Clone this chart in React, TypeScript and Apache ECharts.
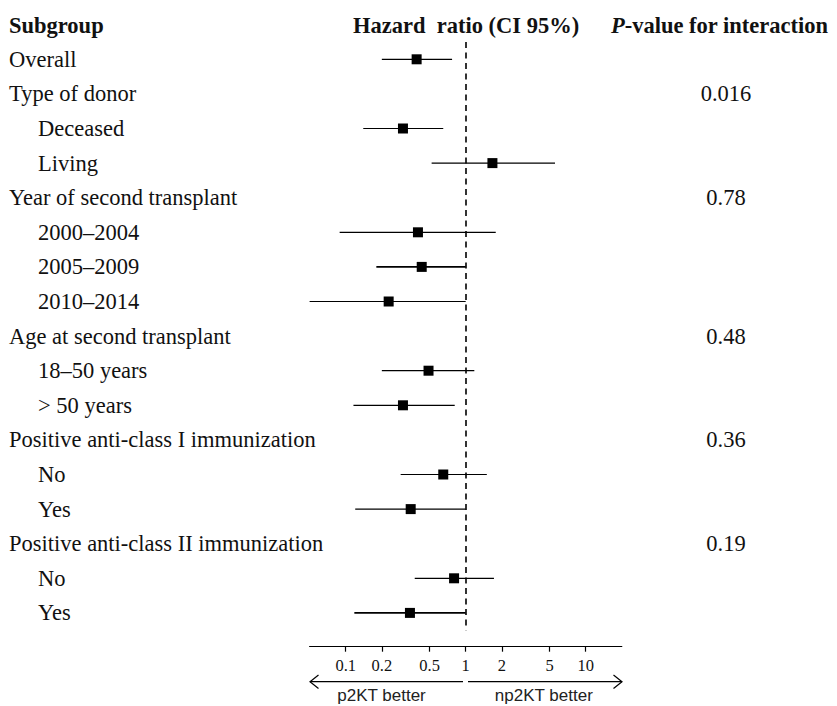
import { useEffect, useRef } from 'react';
import * as echarts from 'echarts';

// ---- data ----
const rowLabels = [
  'Overall',
  'Type of donor',
  'Deceased',
  'Living',
  'Year of second transplant',
  '2000–2004',
  '2005–2009',
  '2010–2014',
  'Age at second transplant',
  '18–50 years',
  '> 50 years',
  'Positive anti-class I immunization',
  'No',
  'Yes',
  'Positive anti-class II immunization',
  'No',
  'Yes',
];
// indices of top-level (non-indented) rows
const topLevelRows = [0, 1, 4, 8, 11, 14];

const hazardRatio = [0.39, null, 0.30, 1.67, null, 0.40, 0.43, 0.228, null, 0.49, 0.30, null, 0.65, 0.348, null, 0.80, 0.343];
const ciLower = [0.20, null, 0.14, 0.52, null, 0.089, 0.18, 0.050, null, 0.20, 0.116, null, 0.287, 0.12, null, 0.376, 0.118];
const ciUpper = [0.77, null, 0.65, 5.55, null, 1.78, 1.00, 1.00, null, 1.18, 0.81, null, 1.50, 1.00, null, 1.72, 1.00];
const pInteraction = ['', '0.016', '', '', '0.78', '', '', '', '0.48', '', '', '0.36', '', '', '0.19', '', ''];
const xTickValues = [0.1, 0.2, 0.5, 1, 2, 5, 10];
const xMin = 0.05;
const xMax = 20;

const SERIF = '"Liberation Serif", "Times New Roman", serif';
const SANS = '"Liberation Sans", Arial, sans-serif';
const INK = '#111';

export default function App() {
  const ref = useRef<HTMLDivElement>(null);

  useEffect(() => {
    if (!ref.current) return;
    const chart = echarts.init(ref.current, null, { renderer: 'svg' });

    const gridLeft = 309.6;
    const gridWidth = 312.2;
    const gridTop = 42;
    const gridHeight = 588.2;
    const thickRows = new Set([6, 16]);
    const FS = 22.5;

    const ciData = rowLabels
      .map((_, i) => (hazardRatio[i] == null ? null : [i, ciLower[i], hazardRatio[i], ciUpper[i]]))
      .filter((d) => d !== null);

    const option: any = {
      animation: false,
      backgroundColor: '#fff',
      grid: {
        left: gridLeft,
        top: gridTop,
        width: gridWidth,
        height: gridHeight,
        containLabel: false,
        outerBoundsMode: 'none',
      },
      xAxis: {
        type: 'log',
        logBase: 10,
        min: xMin,
        max: xMax,
        position: 'bottom',
        offset: 16.5,
        axisLine: { show: true, lineStyle: { color: '#000', width: 1.2 } },
        axisTick: { show: true, customValues: xTickValues, length: 5, lineStyle: { color: '#000', width: 1.2 } },
        axisLabel: {
          customValues: xTickValues,
          formatter: (v: number) => String(Number(Number(v).toPrecision(3))),
          fontFamily: SERIF,
          fontSize: 16.5,
          color: INK,
          margin: 10,
        },
        splitLine: { show: false },
        minorTick: { show: false },
      },
      yAxis: [
        {
          type: 'category',
          data: rowLabels,
          inverse: true,
          position: 'left',
          axisLine: { show: false },
          axisTick: { show: false },
          splitLine: { show: false },
          axisLabel: {
            interval: 0,
            align: 'left',
            margin: gridLeft - 9,
            formatter: (val: string, idx: number) =>
              topLevelRows.indexOf(idx) >= 0 ? `{h|${val}}` : `{i|${val}}`,
            rich: {
              h: { fontFamily: SERIF, fontSize: FS, color: INK },
              i: { fontFamily: SERIF, fontSize: FS, color: INK, padding: [0, 0, 0, 29] },
            },
          },
        },
        {
          type: 'category',
          data: pInteraction,
          inverse: true,
          position: 'right',
          axisLine: { show: false },
          axisTick: { show: false },
          splitLine: { show: false },
          axisLabel: {
            interval: 0,
            align: 'center',
            margin: 726 - (gridLeft + gridWidth),
            fontFamily: SERIF,
            fontSize: FS,
            color: INK,
          },
        },
      ],
      series: [
        {
          type: 'custom',
          xAxisIndex: 0,
          yAxisIndex: 0,
          data: ciData,
          encode: { x: [1, 2, 3], y: 0 },
          renderItem: (params: any, api: any) => {
            const row = api.value(0);
            const lo = api.coord([api.value(1), row]);
            const est = api.coord([api.value(2), row]);
            const hi = api.coord([api.value(3), row]);
            const s = 10;
            const w = thickRows.has(row) ? 1.9 : 1.2;
            return {
              type: 'group',
              children: [
                {
                  type: 'line',
                  shape: { x1: lo[0], y1: lo[1], x2: hi[0], y2: hi[1] },
                  style: { stroke: '#000', lineWidth: w },
                },
                {
                  type: 'rect',
                  shape: { x: est[0] - s / 2, y: est[1] - s / 2, width: s, height: s },
                  style: { fill: '#000' },
                },
              ],
            };
          },
        },
        {
          type: 'line',
          xAxisIndex: 0,
          yAxisIndex: 0,
          data: [],
          silent: true,
          markLine: {
            silent: true,
            symbol: 'none',
            label: { show: false },
            lineStyle: { type: [6, 4.5], color: '#000', width: 1.6 },
            data: [{ xAxis: 1 }],
          },
        },
      ],
      graphic: [
        {
          type: 'text',
          left: 9,
          top: 14,
          style: { text: 'Subgroup', fontFamily: SERIF, fontSize: FS, fontWeight: 'bold', fill: INK },
        },
        {
          type: 'text',
          left: 353,
          top: 14,
          style: { text: 'Hazard  ratio (CI 95%)', fontFamily: SERIF, fontSize: FS, fontWeight: 'bold', fill: INK },
        },
        {
          type: 'text',
          left: 611,
          top: 14,
          style: {
            text: '{p|P}-value for interaction',
            fontFamily: SERIF,
            fontSize: FS,
            fontWeight: 'bold',
            fill: INK,
            rich: {
              p: { fontFamily: SERIF, fontSize: FS, fontWeight: 'bold', fontStyle: 'italic', fill: INK },
            },
          },
        },
        {
          type: 'polyline',
          shape: { points: [[463, 681.7], [310, 681.7]] },
          style: { stroke: '#000', lineWidth: 1.2, fill: 'none' },
        },
        {
          type: 'polyline',
          shape: { points: [[318.5, 675], [310, 681.7], [318.5, 688.5]] },
          style: { stroke: '#000', lineWidth: 1.2, fill: 'none' },
        },
        {
          type: 'polyline',
          shape: { points: [[468, 681.7], [622, 681.7]] },
          style: { stroke: '#000', lineWidth: 1.2, fill: 'none' },
        },
        {
          type: 'polyline',
          shape: { points: [[613.5, 675], [622, 681.7], [613.5, 688.5]] },
          style: { stroke: '#000', lineWidth: 1.2, fill: 'none' },
        },
        {
          type: 'text',
          x: 381.5,
          y: 695.5,
          style: {
            text: 'p2KT better',
            fontFamily: SANS,
            fontSize: 17,
            fill: '#222',
            textAlign: 'center',
            textVerticalAlign: 'middle',
          },
        },
        {
          type: 'text',
          x: 543.8,
          y: 695.5,
          style: {
            text: 'np2KT better',
            fontFamily: SANS,
            fontSize: 17,
            fill: '#222',
            textAlign: 'center',
            textVerticalAlign: 'middle',
          },
        },
      ],
    };

    chart.setOption(option);
    return () => {
      chart.dispose();
    };
  }, []);

  return (
    <div
      ref={ref}
      style={{ position: 'absolute', left: 0, top: 0, width: 837, height: 706, background: '#fff' }}
    />
  );
}
